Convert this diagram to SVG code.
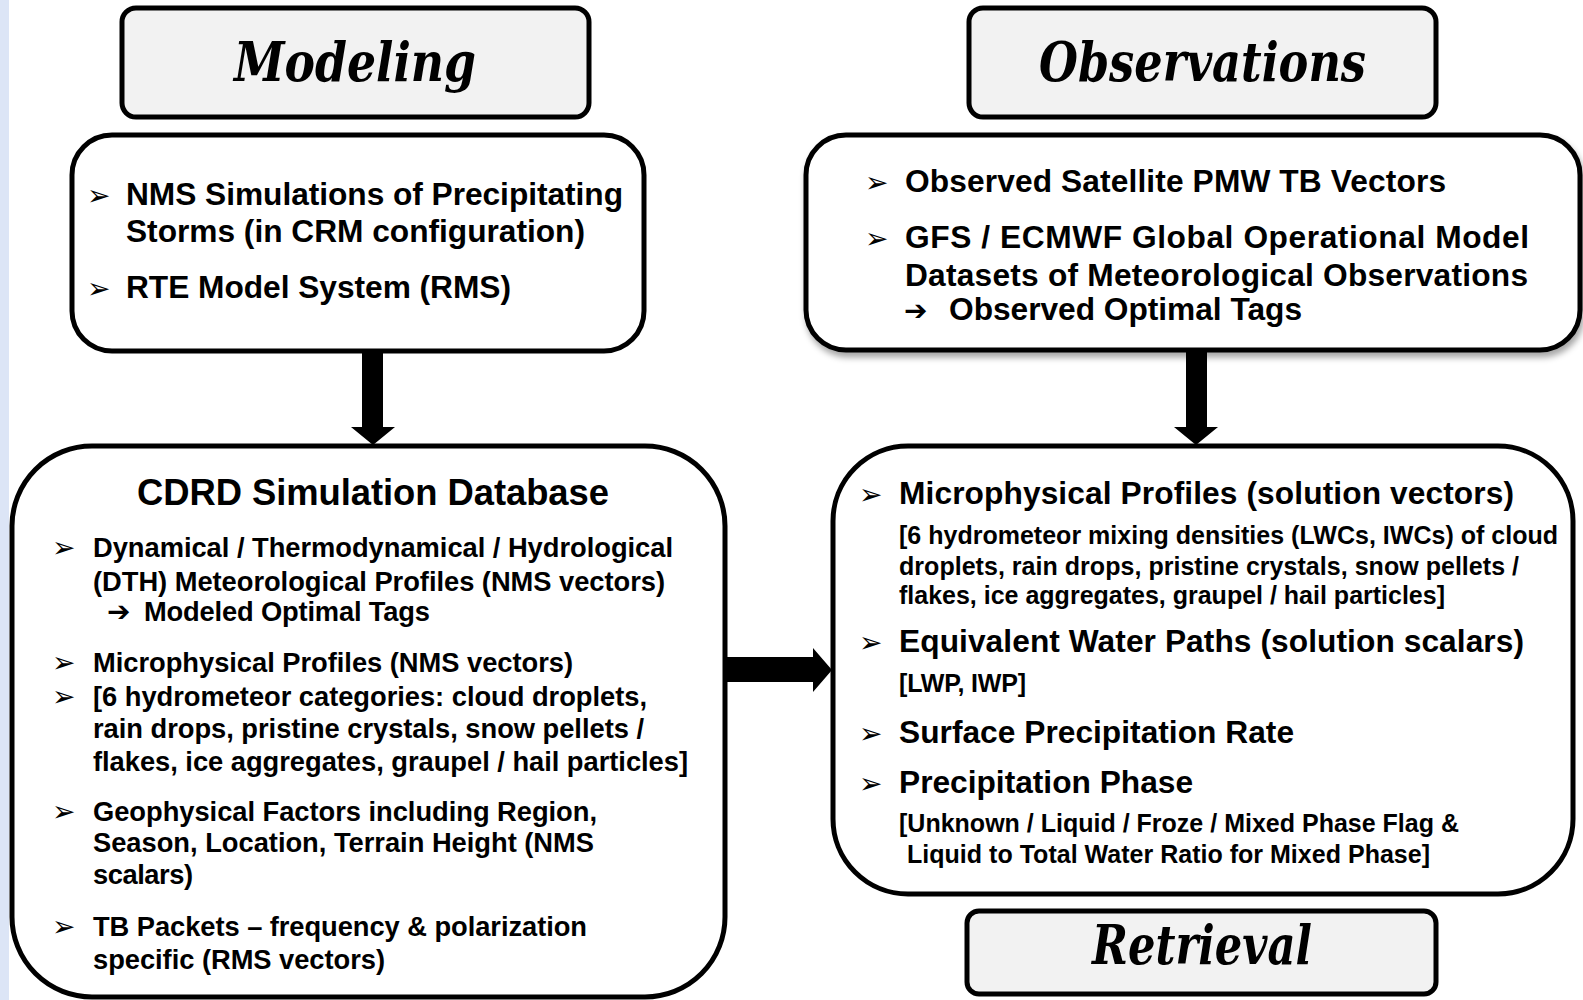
<svg xmlns="http://www.w3.org/2000/svg" width="1583" height="1000" viewBox="0 0 1583 1000">
  <defs>
    <filter id="shadow" x="-5%" y="-5%" width="112%" height="120%">
      <feDropShadow dx="2" dy="5" stdDeviation="3" flood-color="#000" flood-opacity="0.35"/>
    </filter>
    <style>
      .title-box { fill: #f2f2f2; stroke: #000; stroke-width: 5; }
      .box { fill: #fff; stroke: #000; stroke-width: 5; }
      .title { font-family: "DejaVu Serif", "Liberation Serif", serif; font-weight: bold; font-style: italic; font-size: 54px; fill: #000; }
      .txt { font-family: "Liberation Sans", Arial, sans-serif; font-weight: bold; fill: #000; }
      .t32 { font-size: 31.7px; }
      .t27 { font-size: 27.3px; }
      .t25 { font-size: 25px; }
      .h36 { font-size: 36.4px; }
      .bul { font-family: "DejaVu Sans", sans-serif; font-size: 28px; fill: #000; }
      .arr { font-family: "DejaVu Sans", sans-serif; font-weight: bold; font-size: 28px; fill: #000; }
      .conn { fill: #000; }
    </style>
  </defs>

  <rect x="0" y="0" width="1583" height="1000" fill="#fff"/>
  <rect x="0" y="0" width="9" height="1000" fill="#dce5f6"/>

  <!-- connectors: block arrows -->
  <g id="connectors">
    <polygon class="conn" points="362,352 383,352 383,427 395,427 373,445 351,427 362,427"/>
    <polygon class="conn" points="1186,350 1207,350 1207,427 1218,427 1196,445 1174,427 1186,427"/>
    <polygon class="conn" points="725,657 813,657 813,648 832,670 813,692 813,682 725,682"/>
  </g>

  <g id="modeling-title">
    <rect class="title-box" x="122" y="8" width="467" height="109" rx="14"/>
    <text class="title" x="234" y="81" textLength="242" lengthAdjust="spacingAndGlyphs">Modeling</text>
  </g>

  <g id="modeling-box">
    <rect class="box" x="72" y="135" width="572" height="216" rx="40"/>
    <text class="bul" x="87" y="205">➢</text>
    <text class="txt t32" x="126" y="205" textLength="497">NMS Simulations of Precipitating</text>
    <text class="txt t32" x="126" y="242" textLength="459">Storms (in CRM configuration)</text>
    <text class="bul" x="87" y="298">➢</text>
    <text class="txt t32" x="126" y="298" textLength="385">RTE Model System (RMS)</text>
  </g>

  <g id="observations-title">
    <rect class="title-box" x="969" y="8" width="467" height="109" rx="14"/>
    <text class="title" x="1039" y="81" textLength="327" lengthAdjust="spacingAndGlyphs">Observations</text>
  </g>

  <g id="observations-box">
    <rect class="box" x="806" y="135" width="774" height="215" rx="40" filter="url(#shadow)"/>
    <text class="bul" x="865" y="192">➢</text>
    <text class="txt t32" x="905" y="192" textLength="541">Observed Satellite PMW TB Vectors</text>
    <text class="bul" x="865" y="248">➢</text>
    <text class="txt t32" x="905" y="248" textLength="624">GFS / ECMWF Global Operational Model</text>
    <text class="txt t32" x="905" y="286" textLength="623">Datasets of Meteorological Observations</text>
    <text class="arr" x="904" y="320">➔</text>
    <text class="txt t32" x="949" y="320" textLength="353">Observed Optimal Tags</text>
  </g>

  <g id="cdrd-box">
    <rect class="box" x="12" y="446" width="713" height="551" rx="80"/>
    <text class="txt h36" x="137" y="505" textLength="472">CDRD Simulation Database</text>
    <text class="bul" x="52" y="557">➢</text>
    <text class="txt t27" x="93" y="557" textLength="580">Dynamical / Thermodynamical / Hydrological</text>
    <text class="txt t27" x="93" y="591" textLength="572">(DTH) Meteorological Profiles (NMS vectors)</text>
    <text class="arr" x="107" y="621">➔</text>
    <text class="txt t27" x="144" y="621" textLength="286">Modeled Optimal Tags</text>
    <text class="bul" x="52" y="672">➢</text>
    <text class="txt t27" x="93" y="672" textLength="480">Microphysical Profiles (NMS vectors)</text>
    <text class="bul" x="52" y="706">➢</text>
    <text class="txt t27" x="93" y="706" textLength="554">[6 hydrometeor categories: cloud droplets,</text>
    <text class="txt t27" x="93" y="738" textLength="551">rain drops, pristine crystals, snow pellets /</text>
    <text class="txt t27" x="93" y="771" textLength="595">flakes, ice aggregates, graupel / hail particles]</text>
    <text class="bul" x="52" y="821">➢</text>
    <text class="txt t27" x="93" y="821" textLength="504">Geophysical Factors including Region,</text>
    <text class="txt t27" x="93" y="852" textLength="501">Season, Location, Terrain Height (NMS</text>
    <text class="txt t27" x="93" y="884" textLength="100">scalars)</text>
    <text class="bul" x="52" y="936">➢</text>
    <text class="txt t27" x="93" y="936" textLength="494">TB Packets – frequency &amp; polarization</text>
    <text class="txt t27" x="93" y="969" textLength="292">specific (RMS vectors)</text>
  </g>

  <g id="retrieval-box">
    <rect class="box" x="833" y="446" width="740" height="448" rx="75"/>
    <text class="bul" x="859" y="504">➢</text>
    <text class="txt t32" x="899" y="504" textLength="615">Microphysical Profiles (solution vectors)</text>
    <text class="txt t25" x="899" y="544" textLength="659">[6 hydrometeor mixing densities (LWCs, IWCs) of cloud</text>
    <text class="txt t25" x="899" y="575" textLength="620">droplets, rain drops, pristine crystals, snow pellets /</text>
    <text class="txt t25" x="899" y="604" textLength="546">flakes, ice aggregates, graupel / hail particles]</text>
    <text class="bul" x="859" y="652">➢</text>
    <text class="txt t32" x="899" y="652" textLength="625">Equivalent Water Paths (solution scalars)</text>
    <text class="txt t25" x="899" y="692" textLength="127">[LWP, IWP]</text>
    <text class="bul" x="859" y="743">➢</text>
    <text class="txt t32" x="899" y="743" textLength="395">Surface Precipitation Rate</text>
    <text class="bul" x="859" y="793">➢</text>
    <text class="txt t32" x="899" y="793" textLength="294">Precipitation Phase</text>
    <text class="txt t25" x="899" y="832" textLength="560">[Unknown / Liquid / Froze / Mixed Phase Flag &amp;</text>
    <text class="txt t25" x="907" y="863" textLength="523">Liquid to Total Water Ratio for Mixed Phase]</text>
  </g>

  <g id="retrieval-title">
    <rect class="title-box" x="967" y="911" width="469" height="83" rx="12"/>
    <text class="title" x="1092" y="964" textLength="220" lengthAdjust="spacingAndGlyphs">Retrieval</text>
  </g>
</svg>
